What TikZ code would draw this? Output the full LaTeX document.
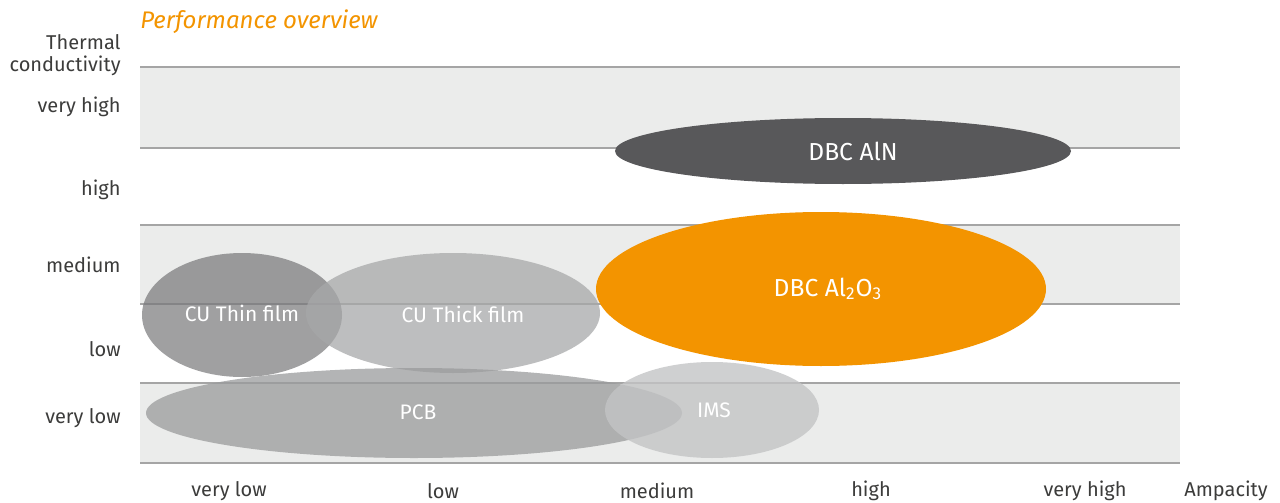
\documentclass[tikz,border=0pt]{standalone}
\usepackage{fontspec}
\setmainfont{Fira Sans}
\definecolor{band}{RGB}{235,236,235}
\definecolor{rule}{RGB}{165,165,165}
\definecolor{txt}{RGB}{60,60,59}
\definecolor{orng}{RGB}{243,148,0}
\definecolor{dark}{RGB}{88,88,90}
\definecolor{cthin}{RGB}{119,119,121}
\definecolor{cthick}{RGB}{167,168,169}
\definecolor{cpcb}{RGB}{154,155,156}
\definecolor{cims}{RGB}{195,196,197}
\tikzset{
  lab/.style={font=\fontsize{10pt}{12pt}\selectfont, text=txt},
  ylab/.style={lab, anchor=east, inner sep=0pt},
  ell/.style={ellipse, inner sep=0pt, font=\fontsize{10.5pt}{12pt}\selectfont, text=white},
  bigell/.style={ell, font=\fontsize{12.3pt}{14pt}\selectfont},
}
\usetikzlibrary{shapes.geometric}
\begin{document}
\begin{tikzpicture}[x=0.5pt,y=-0.5pt]
\useasboundingbox (0,0) rectangle (1280,503);
% bands
\fill[band] (140,67) rectangle (1180,148);
\fill[band] (140,225) rectangle (1180,304);
\fill[band] (140,383) rectangle (1180,463);
\foreach \y in {67,148,225,304,383,463}
  \draw[rule, line width=0.7pt] (140,\y) -- (1180,\y);
% title
\node[anchor=west, font=\fontsize{12pt}{14pt}\selectfont\itshape, text=orng, inner sep=0pt] (title) at (140,22) {Performance overview};
% y labels
\node[ylab, align=right] (tc) at (121,55) {Thermal\\[-1pt]conductivity};
\node[ylab] (vh) at (121,107) {very high};
\node[ylab] (h) at (121,190) {high};
\node[ylab] (m) at (121,265) {medium};
\node[ylab] (l) at (121,349) {low};
\node[ylab] (vl) at (121,418) {very low};
% x labels
\node[lab] (xvl) at (229,491) {very low};
\node[lab] (xl) at (443,491) {low};
\node[lab] (xm) at (657,491) {medium};
\node[lab] (xh) at (871,491) {high};
\node[lab] (xvh) at (1085,491) {very high};
\node[lab] (xa) at (1226,491) {Ampacity};
% ellipses
\fill[cthin, fill opacity=0.7] (242,315) ellipse [x radius=100, y radius=62];
\fill[cthick, fill opacity=0.75] (453,313) ellipse [x radius=147, y radius=60];
\fill[cpcb, fill opacity=0.75] (414,413) ellipse [x radius=268, y radius=45];
\fill[cims, fill opacity=0.8] (712,410) ellipse [x radius=107, y radius=48];
\fill[dark] (843,151) ellipse [x radius=228, y radius=33];
\fill[orng] (821,289) ellipse [x radius=225, y radius=77];
% ellipse labels
\node[ell] (cuthin) at (242,313) {CU Thin film};
\node[ell] (cuthick) at (463,314) {CU Thick film};
\node[ell] (pcbl) at (418,412) {PCB};
\node[ell] (imsl) at (714,410) {IMS};
\node[bigell] (ain) at (853,151) {DBC AlN};
\node[bigell] (alo) at (828,289) {DBC Al\textsubscript{2}O\textsubscript{3}};
\end{tikzpicture}
\end{document}
